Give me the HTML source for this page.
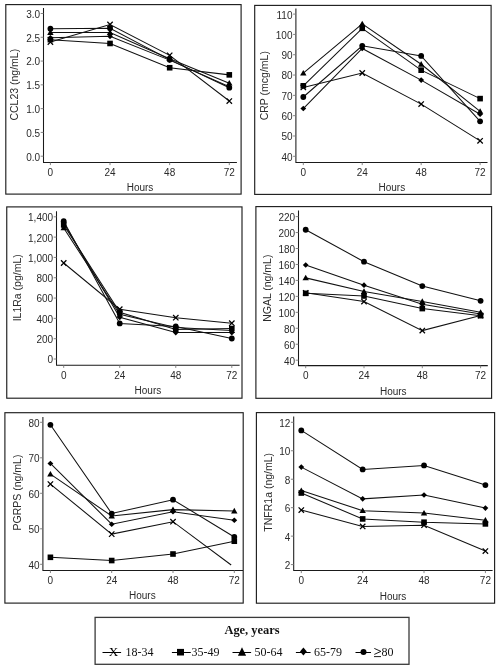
<!DOCTYPE html>
<html><head><meta charset="utf-8"><style>
html,body{margin:0;padding:0;background:#fff;}
svg{display:block;will-change:transform;}
text{font-family:"Liberation Sans",sans-serif;font-size:10px;fill:#2b2b2b;}
text.lt{font-family:"Liberation Serif",serif;font-size:12px;fill:#111;}
</style></head><body>
<svg width="500" height="670" viewBox="0 0 500 670">
<rect width="500" height="670" fill="#fff"/>
<rect x="5.8" y="4.6" width="235.30" height="189.50" fill="none" stroke="#1e1e1e" stroke-width="1.15"/>
<path d="M43.5,8.1V162.5H236.9" fill="none" stroke="#1a1a1a" stroke-width="1.05"/>
<text x="40.10" y="160.60" text-anchor="end">0.0</text>
<text x="40.10" y="136.82" text-anchor="end">0.5</text>
<text x="40.10" y="113.03" text-anchor="end">1.0</text>
<text x="40.10" y="89.25" text-anchor="end">1.5</text>
<text x="40.10" y="65.47" text-anchor="end">2.0</text>
<text x="40.10" y="41.68" text-anchor="end">2.5</text>
<text x="40.10" y="17.90" text-anchor="end">3.0</text>
<text x="50.40" y="175.70" text-anchor="middle">0</text>
<text x="110.03" y="175.70" text-anchor="middle">24</text>
<text x="169.67" y="175.70" text-anchor="middle">48</text>
<text x="229.30" y="175.70" text-anchor="middle">72</text>
<path d="M40.70,156.20H43.5M40.70,132.42H43.5M40.70,108.63H43.5M40.70,84.85H43.5M40.70,61.07H43.5M40.70,37.28H43.5M40.70,13.50H43.5M50.40,162.5V165.10M110.03,162.5V165.10M169.67,162.5V165.10M229.30,162.5V165.10" stroke="#777" stroke-width="0.9" fill="none"/>
<text x="140" y="190.60" text-anchor="middle">Hours</text>
<text transform="translate(18.2,84.7) rotate(-90)" text-anchor="middle" style="font-size:10.5px">CCL23 (ng/mL)</text>
<path d="M50.40,42.04L110.03,24.44L169.67,55.36L229.30,101.02" fill="none" stroke="#111" stroke-width="1.05"/>
<path d="M50.40,39.66L110.03,43.47L169.67,67.73L229.30,74.86" fill="none" stroke="#111" stroke-width="1.05"/>
<path d="M50.40,32.53L110.03,32.53L169.67,58.69L229.30,83.19" fill="none" stroke="#111" stroke-width="1.05"/>
<path d="M50.40,37.76L110.03,36.33L169.67,60.12L229.30,86.75" fill="none" stroke="#111" stroke-width="1.05"/>
<path d="M50.40,28.72L110.03,28.25L169.67,59.64L229.30,87.70" fill="none" stroke="#111" stroke-width="1.05"/>
<path d="M47.70,39.34L53.10,44.74M53.10,39.34L47.70,44.74" fill="none" stroke="#000" stroke-width="1.25"/>
<path d="M107.33,21.74L112.73,27.14M112.73,21.74L107.33,27.14" fill="none" stroke="#000" stroke-width="1.25"/>
<path d="M166.97,52.66L172.37,58.06M172.37,52.66L166.97,58.06" fill="none" stroke="#000" stroke-width="1.25"/>
<path d="M226.60,98.32L232.00,103.72M232.00,98.32L226.60,103.72" fill="none" stroke="#000" stroke-width="1.25"/>
<rect x="47.60" y="36.86" width="5.6" height="5.6"/>
<rect x="107.23" y="40.67" width="5.6" height="5.6"/>
<rect x="166.87" y="64.93" width="5.6" height="5.6"/>
<rect x="226.50" y="72.06" width="5.6" height="5.6"/>
<path d="M50.40,29.33L53.60,34.93L47.20,34.93Z"/>
<path d="M110.03,29.33L113.23,34.93L106.83,34.93Z"/>
<path d="M169.67,55.49L172.87,61.09L166.47,61.09Z"/>
<path d="M229.30,79.99L232.50,85.59L226.10,85.59Z"/>
<path d="M50.40,34.96L53.30,37.76L50.40,40.56L47.50,37.76Z"/>
<path d="M110.03,33.53L112.93,36.33L110.03,39.13L107.13,36.33Z"/>
<path d="M169.67,57.32L172.57,60.12L169.67,62.92L166.77,60.12Z"/>
<path d="M229.30,83.95L232.20,86.75L229.30,89.55L226.40,86.75Z"/>
<circle cx="50.40" cy="28.72" r="2.9"/>
<circle cx="110.03" cy="28.25" r="2.9"/>
<circle cx="169.67" cy="59.64" r="2.9"/>
<circle cx="229.30" cy="87.70" r="2.9"/>
<rect x="254.7" y="5.4" width="236.40" height="189.00" fill="none" stroke="#1e1e1e" stroke-width="1.15"/>
<path d="M295.9,8.4V162.5H487.5" fill="none" stroke="#1a1a1a" stroke-width="1.05"/>
<text x="292.50" y="160.70" text-anchor="end">40</text>
<text x="292.50" y="140.39" text-anchor="end">50</text>
<text x="292.50" y="120.07" text-anchor="end">60</text>
<text x="292.50" y="99.76" text-anchor="end">70</text>
<text x="292.50" y="79.44" text-anchor="end">80</text>
<text x="292.50" y="59.13" text-anchor="end">90</text>
<text x="292.50" y="38.81" text-anchor="end">100</text>
<text x="292.50" y="18.50" text-anchor="end">110</text>
<text x="303.30" y="176.30" text-anchor="middle">0</text>
<text x="362.23" y="176.30" text-anchor="middle">24</text>
<text x="421.17" y="176.30" text-anchor="middle">48</text>
<text x="480.10" y="176.30" text-anchor="middle">72</text>
<path d="M293.10,156.30H295.9M293.10,135.99H295.9M293.10,115.67H295.9M293.10,95.36H295.9M293.10,75.04H295.9M293.10,54.73H295.9M293.10,34.41H295.9M293.10,14.10H295.9M303.30,162.5V165.10M362.23,162.5V165.10M421.17,162.5V165.10M480.10,162.5V165.10" stroke="#777" stroke-width="0.9" fill="none"/>
<text x="391.85" y="191.40" text-anchor="middle">Hours</text>
<text transform="translate(268.09999999999997,85.7) rotate(-90)" text-anchor="middle" style="font-size:10.5px">CRP (mcg/mL)</text>
<path d="M303.30,87.43L362.23,73.01L421.17,104.09L480.10,140.86" fill="none" stroke="#111" stroke-width="1.05"/>
<path d="M303.30,85.81L362.23,28.32L421.17,70.17L480.10,98.61" fill="none" stroke="#111" stroke-width="1.05"/>
<path d="M303.30,73.21L362.23,23.85L421.17,64.28L480.10,111.41" fill="none" stroke="#111" stroke-width="1.05"/>
<path d="M303.30,108.56L362.23,48.43L421.17,80.12L480.10,114.25" fill="none" stroke="#111" stroke-width="1.05"/>
<path d="M303.30,96.98L362.23,45.79L421.17,55.95L480.10,121.36" fill="none" stroke="#111" stroke-width="1.05"/>
<path d="M300.60,84.73L306.00,90.13M306.00,84.73L300.60,90.13" fill="none" stroke="#000" stroke-width="1.25"/>
<path d="M359.53,70.31L364.93,75.71M364.93,70.31L359.53,75.71" fill="none" stroke="#000" stroke-width="1.25"/>
<path d="M418.47,101.39L423.87,106.79M423.87,101.39L418.47,106.79" fill="none" stroke="#000" stroke-width="1.25"/>
<path d="M477.40,138.16L482.80,143.56M482.80,138.16L477.40,143.56" fill="none" stroke="#000" stroke-width="1.25"/>
<rect x="300.50" y="83.01" width="5.6" height="5.6"/>
<rect x="359.43" y="25.52" width="5.6" height="5.6"/>
<rect x="418.37" y="67.37" width="5.6" height="5.6"/>
<rect x="477.30" y="95.81" width="5.6" height="5.6"/>
<path d="M303.30,70.01L306.50,75.61L300.10,75.61Z"/>
<path d="M362.23,20.65L365.43,26.25L359.03,26.25Z"/>
<path d="M421.17,61.08L424.37,66.68L417.97,66.68Z"/>
<path d="M480.10,108.21L483.30,113.81L476.90,113.81Z"/>
<path d="M303.30,105.76L306.20,108.56L303.30,111.36L300.40,108.56Z"/>
<path d="M362.23,45.63L365.13,48.43L362.23,51.23L359.33,48.43Z"/>
<path d="M421.17,77.32L424.07,80.12L421.17,82.92L418.27,80.12Z"/>
<path d="M480.10,111.45L483.00,114.25L480.10,117.05L477.20,114.25Z"/>
<circle cx="303.30" cy="96.98" r="2.9"/>
<circle cx="362.23" cy="45.79" r="2.9"/>
<circle cx="421.17" cy="55.95" r="2.9"/>
<circle cx="480.10" cy="121.36" r="2.9"/>
<rect x="6.75" y="206.9" width="235.25" height="191.30" fill="none" stroke="#1e1e1e" stroke-width="1.15"/>
<path d="M56.5,211.2V365.3H239.6" fill="none" stroke="#1a1a1a" stroke-width="1.05"/>
<text x="53.10" y="363.40" text-anchor="end">0</text>
<text x="53.10" y="343.09" text-anchor="end">200</text>
<text x="53.10" y="322.77" text-anchor="end">400</text>
<text x="53.10" y="302.46" text-anchor="end">600</text>
<text x="53.10" y="282.14" text-anchor="end">800</text>
<text x="53.10" y="261.83" text-anchor="end">1,000</text>
<text x="53.10" y="241.51" text-anchor="end">1,200</text>
<text x="53.10" y="221.20" text-anchor="end">1,400</text>
<text x="63.70" y="378.80" text-anchor="middle">0</text>
<text x="119.73" y="378.80" text-anchor="middle">24</text>
<text x="175.77" y="378.80" text-anchor="middle">48</text>
<text x="231.80" y="378.80" text-anchor="middle">72</text>
<path d="M53.70,359.00H56.5M53.70,338.69H56.5M53.70,318.37H56.5M53.70,298.06H56.5M53.70,277.74H56.5M53.70,257.43H56.5M53.70,237.11H56.5M53.70,216.80H56.5M63.70,365.3V367.90M119.73,365.3V367.90M175.77,365.3V367.90M231.80,365.3V367.90" stroke="#777" stroke-width="0.9" fill="none"/>
<text x="147.9" y="393.90" text-anchor="middle">Hours</text>
<text transform="translate(20.599999999999998,287.75) rotate(-90)" text-anchor="middle" style="font-size:10.5px">IL1Ra (pg/mL)</text>
<path d="M63.70,263.01L119.73,309.23L175.77,317.66L231.80,323.15" fill="none" stroke="#111" stroke-width="1.05"/>
<path d="M63.70,224.93L119.73,312.28L175.77,329.54L231.80,328.53" fill="none" stroke="#111" stroke-width="1.05"/>
<path d="M63.70,227.97L119.73,314.31L175.77,327.51L231.80,330.56" fill="none" stroke="#111" stroke-width="1.05"/>
<path d="M63.70,222.89L119.73,317.36L175.77,332.59L231.80,332.59" fill="none" stroke="#111" stroke-width="1.05"/>
<path d="M63.70,221.27L119.73,323.45L175.77,326.50L231.80,338.48" fill="none" stroke="#111" stroke-width="1.05"/>
<path d="M61.00,260.31L66.40,265.71M66.40,260.31L61.00,265.71" fill="none" stroke="#000" stroke-width="1.25"/>
<path d="M117.03,306.53L122.43,311.93M122.43,306.53L117.03,311.93" fill="none" stroke="#000" stroke-width="1.25"/>
<path d="M173.07,314.96L178.47,320.36M178.47,314.96L173.07,320.36" fill="none" stroke="#000" stroke-width="1.25"/>
<path d="M229.10,320.45L234.50,325.85M234.50,320.45L229.10,325.85" fill="none" stroke="#000" stroke-width="1.25"/>
<rect x="60.90" y="222.13" width="5.6" height="5.6"/>
<rect x="116.93" y="309.48" width="5.6" height="5.6"/>
<rect x="172.97" y="326.74" width="5.6" height="5.6"/>
<rect x="229.00" y="325.73" width="5.6" height="5.6"/>
<path d="M63.70,224.77L66.90,230.37L60.50,230.37Z"/>
<path d="M119.73,311.11L122.93,316.71L116.53,316.71Z"/>
<path d="M175.77,324.31L178.97,329.91L172.57,329.91Z"/>
<path d="M231.80,327.36L235.00,332.96L228.60,332.96Z"/>
<path d="M63.70,220.09L66.60,222.89L63.70,225.69L60.80,222.89Z"/>
<path d="M119.73,314.56L122.63,317.36L119.73,320.16L116.83,317.36Z"/>
<path d="M175.77,329.79L178.67,332.59L175.77,335.39L172.87,332.59Z"/>
<path d="M231.80,329.79L234.70,332.59L231.80,335.39L228.90,332.59Z"/>
<circle cx="63.70" cy="221.27" r="2.9"/>
<circle cx="119.73" cy="323.45" r="2.9"/>
<circle cx="175.77" cy="326.50" r="2.9"/>
<circle cx="231.80" cy="338.48" r="2.9"/>
<rect x="255.9" y="206.6" width="235.70" height="191.70" fill="none" stroke="#1e1e1e" stroke-width="1.15"/>
<path d="M298.5,210.5V365.6H487.8" fill="none" stroke="#1a1a1a" stroke-width="1.05"/>
<text x="295.10" y="364.60" text-anchor="end">40</text>
<text x="295.10" y="348.64" text-anchor="end">60</text>
<text x="295.10" y="332.69" text-anchor="end">80</text>
<text x="295.10" y="316.73" text-anchor="end">100</text>
<text x="295.10" y="300.78" text-anchor="end">120</text>
<text x="295.10" y="284.82" text-anchor="end">140</text>
<text x="295.10" y="268.87" text-anchor="end">160</text>
<text x="295.10" y="252.91" text-anchor="end">180</text>
<text x="295.10" y="236.96" text-anchor="end">200</text>
<text x="295.10" y="221.00" text-anchor="end">220</text>
<text x="305.70" y="379.30" text-anchor="middle">0</text>
<text x="364.00" y="379.30" text-anchor="middle">24</text>
<text x="422.30" y="379.30" text-anchor="middle">48</text>
<text x="480.60" y="379.30" text-anchor="middle">72</text>
<path d="M295.70,360.20H298.5M295.70,344.24H298.5M295.70,328.29H298.5M295.70,312.33H298.5M295.70,296.38H298.5M295.70,280.42H298.5M295.70,264.47H298.5M295.70,248.51H298.5M295.70,232.56H298.5M295.70,216.60H298.5M305.70,365.6V368.20M364.00,365.6V368.20M422.30,365.6V368.20M480.60,365.6V368.20" stroke="#777" stroke-width="0.9" fill="none"/>
<text x="393.25" y="394.65" text-anchor="middle">Hours</text>
<text transform="translate(271.2,288.2) rotate(-90)" text-anchor="middle" style="font-size:10.5px">NGAL (ng/mL)</text>
<path d="M305.70,292.79L364.00,301.56L422.30,330.60L480.60,315.52" fill="none" stroke="#111" stroke-width="1.05"/>
<path d="M305.70,293.35L364.00,295.98L422.30,308.58L480.60,315.68" fill="none" stroke="#111" stroke-width="1.05"/>
<path d="M305.70,277.87L364.00,291.51L422.30,301.48L480.60,312.33" fill="none" stroke="#111" stroke-width="1.05"/>
<path d="M305.70,264.95L364.00,285.13L422.30,304.36L480.60,313.93" fill="none" stroke="#111" stroke-width="1.05"/>
<path d="M305.70,229.76L364.00,261.67L422.30,286.09L480.60,300.85" fill="none" stroke="#111" stroke-width="1.05"/>
<path d="M303.00,290.09L308.40,295.49M308.40,290.09L303.00,295.49" fill="none" stroke="#000" stroke-width="1.25"/>
<path d="M361.30,298.86L366.70,304.26M366.70,298.86L361.30,304.26" fill="none" stroke="#000" stroke-width="1.25"/>
<path d="M419.60,327.90L425.00,333.30M425.00,327.90L419.60,333.30" fill="none" stroke="#000" stroke-width="1.25"/>
<path d="M477.90,312.82L483.30,318.22M483.30,312.82L477.90,318.22" fill="none" stroke="#000" stroke-width="1.25"/>
<rect x="302.90" y="290.55" width="5.6" height="5.6"/>
<rect x="361.20" y="293.18" width="5.6" height="5.6"/>
<rect x="419.50" y="305.78" width="5.6" height="5.6"/>
<rect x="477.80" y="312.88" width="5.6" height="5.6"/>
<path d="M305.70,274.67L308.90,280.27L302.50,280.27Z"/>
<path d="M364.00,288.31L367.20,293.91L360.80,293.91Z"/>
<path d="M422.30,298.28L425.50,303.88L419.10,303.88Z"/>
<path d="M480.60,309.13L483.80,314.73L477.40,314.73Z"/>
<path d="M305.70,262.15L308.60,264.95L305.70,267.75L302.80,264.95Z"/>
<path d="M364.00,282.33L366.90,285.13L364.00,287.93L361.10,285.13Z"/>
<path d="M422.30,301.56L425.20,304.36L422.30,307.16L419.40,304.36Z"/>
<path d="M480.60,311.13L483.50,313.93L480.60,316.73L477.70,313.93Z"/>
<circle cx="305.70" cy="229.76" r="2.9"/>
<circle cx="364.00" cy="261.67" r="2.9"/>
<circle cx="422.30" cy="286.09" r="2.9"/>
<circle cx="480.60" cy="300.85" r="2.9"/>
<rect x="4.9" y="412.7" width="238.30" height="190.40" fill="none" stroke="#1e1e1e" stroke-width="1.15"/>
<path d="M42.9,416.9V570.4H243" fill="none" stroke="#1a1a1a" stroke-width="1.05"/>
<text x="39.50" y="568.70" text-anchor="end">40</text>
<text x="39.50" y="533.20" text-anchor="end">50</text>
<text x="39.50" y="497.70" text-anchor="end">60</text>
<text x="39.50" y="462.20" text-anchor="end">70</text>
<text x="39.50" y="426.70" text-anchor="end">80</text>
<text x="50.40" y="584.00" text-anchor="middle">0</text>
<text x="111.70" y="584.00" text-anchor="middle">24</text>
<text x="173.00" y="584.00" text-anchor="middle">48</text>
<text x="234.30" y="584.00" text-anchor="middle">72</text>
<path d="M40.10,564.30H42.9M40.10,528.80H42.9M40.10,493.30H42.9M40.10,457.80H42.9M40.10,422.30H42.9M50.40,570.4V573.00M111.70,570.4V573.00M173.00,570.4V573.00M234.30,570.4V573.00" stroke="#777" stroke-width="0.9" fill="none"/>
<text x="142.3" y="599.30" text-anchor="middle">Hours</text>
<text transform="translate(20.5,492.5) rotate(-90)" text-anchor="middle" style="font-size:10.5px">PGRPS (ng/mL)</text>
<path d="M50.40,484.07L111.70,534.12L173.00,521.70L231.20,565.00" fill="none" stroke="#111" stroke-width="1.05"/>
<path d="M50.40,557.31L111.70,560.54L173.00,554.00L234.30,541.22" fill="none" stroke="#111" stroke-width="1.05"/>
<path d="M50.40,474.13L111.70,516.02L173.00,509.63L234.30,511.05" fill="none" stroke="#111" stroke-width="1.05"/>
<path d="M50.40,463.48L111.70,524.18L173.00,511.76L234.30,520.28" fill="none" stroke="#111" stroke-width="1.05"/>
<path d="M50.40,424.79L111.70,513.53L173.00,499.69L234.30,536.96" fill="none" stroke="#111" stroke-width="1.05"/>
<path d="M47.70,481.37L53.10,486.77M53.10,481.37L47.70,486.77" fill="none" stroke="#000" stroke-width="1.25"/>
<path d="M109.00,531.42L114.40,536.83M114.40,531.42L109.00,536.83" fill="none" stroke="#000" stroke-width="1.25"/>
<path d="M170.30,519.00L175.70,524.40M175.70,519.00L170.30,524.40" fill="none" stroke="#000" stroke-width="1.25"/>
<rect x="47.60" y="554.51" width="5.6" height="5.6"/>
<rect x="108.90" y="557.74" width="5.6" height="5.6"/>
<rect x="170.20" y="551.21" width="5.6" height="5.6"/>
<rect x="231.50" y="538.42" width="5.6" height="5.6"/>
<path d="M50.40,470.93L53.60,476.53L47.20,476.53Z"/>
<path d="M111.70,512.82L114.90,518.42L108.50,518.42Z"/>
<path d="M173.00,506.43L176.20,512.03L169.80,512.03Z"/>
<path d="M234.30,507.85L237.50,513.45L231.10,513.45Z"/>
<path d="M50.40,460.68L53.30,463.48L50.40,466.28L47.50,463.48Z"/>
<path d="M111.70,521.38L114.60,524.18L111.70,526.98L108.80,524.18Z"/>
<path d="M173.00,508.96L175.90,511.76L173.00,514.56L170.10,511.76Z"/>
<path d="M234.30,517.48L237.20,520.28L234.30,523.08L231.40,520.28Z"/>
<circle cx="50.40" cy="424.79" r="2.9"/>
<circle cx="111.70" cy="513.53" r="2.9"/>
<circle cx="173.00" cy="499.69" r="2.9"/>
<circle cx="234.30" cy="536.96" r="2.9"/>
<rect x="256.4" y="412.6" width="238.20" height="190.60" fill="none" stroke="#1e1e1e" stroke-width="1.15"/>
<path d="M293.7,416.6V570.5H492.6" fill="none" stroke="#1a1a1a" stroke-width="1.05"/>
<text x="290.30" y="569.00" text-anchor="end">2</text>
<text x="290.30" y="540.54" text-anchor="end">4</text>
<text x="290.30" y="512.08" text-anchor="end">6</text>
<text x="290.30" y="483.62" text-anchor="end">8</text>
<text x="290.30" y="455.16" text-anchor="end">10</text>
<text x="290.30" y="426.70" text-anchor="end">12</text>
<text x="301.30" y="584.00" text-anchor="middle">0</text>
<text x="362.67" y="584.00" text-anchor="middle">24</text>
<text x="424.03" y="584.00" text-anchor="middle">48</text>
<text x="485.40" y="584.00" text-anchor="middle">72</text>
<path d="M290.90,564.60H293.7M290.90,536.14H293.7M290.90,507.68H293.7M290.90,479.22H293.7M290.90,450.76H293.7M290.90,422.30H293.7M301.30,570.5V573.10M362.67,570.5V573.10M424.03,570.5V573.10M485.40,570.5V573.10" stroke="#777" stroke-width="0.9" fill="none"/>
<text x="393" y="599.65" text-anchor="middle">Hours</text>
<text transform="translate(271.9,492.3) rotate(-90)" text-anchor="middle" style="font-size:10.5px">TNFR1a (ng/mL)</text>
<path d="M301.30,510.10L362.67,526.46L424.03,525.18L485.40,551.08" fill="none" stroke="#111" stroke-width="1.05"/>
<path d="M301.30,493.02L362.67,518.92L424.03,522.19L485.40,523.90" fill="none" stroke="#111" stroke-width="1.05"/>
<path d="M301.30,490.60L362.67,510.67L424.03,513.09L485.40,520.20" fill="none" stroke="#111" stroke-width="1.05"/>
<path d="M301.30,467.12L362.67,498.86L424.03,495.02L485.40,508.11" fill="none" stroke="#111" stroke-width="1.05"/>
<path d="M301.30,430.41L362.67,469.40L424.03,465.42L485.40,485.05" fill="none" stroke="#111" stroke-width="1.05"/>
<path d="M298.60,507.40L304.00,512.80M304.00,507.40L298.60,512.80" fill="none" stroke="#000" stroke-width="1.25"/>
<path d="M359.97,523.76L365.37,529.16M365.37,523.76L359.97,529.16" fill="none" stroke="#000" stroke-width="1.25"/>
<path d="M421.33,522.48L426.73,527.88M426.73,522.48L421.33,527.88" fill="none" stroke="#000" stroke-width="1.25"/>
<path d="M482.70,548.38L488.10,553.78M488.10,548.38L482.70,553.78" fill="none" stroke="#000" stroke-width="1.25"/>
<rect x="298.50" y="490.22" width="5.6" height="5.6"/>
<rect x="359.87" y="516.12" width="5.6" height="5.6"/>
<rect x="421.23" y="519.39" width="5.6" height="5.6"/>
<rect x="482.60" y="521.10" width="5.6" height="5.6"/>
<path d="M301.30,487.40L304.50,493.00L298.10,493.00Z"/>
<path d="M362.67,507.47L365.87,513.07L359.47,513.07Z"/>
<path d="M424.03,509.89L427.23,515.49L420.83,515.49Z"/>
<path d="M485.40,517.00L488.60,522.60L482.20,522.60Z"/>
<path d="M301.30,464.32L304.20,467.12L301.30,469.92L298.40,467.12Z"/>
<path d="M362.67,496.06L365.57,498.86L362.67,501.66L359.77,498.86Z"/>
<path d="M424.03,492.22L426.93,495.02L424.03,497.82L421.13,495.02Z"/>
<path d="M485.40,505.31L488.30,508.11L485.40,510.91L482.50,508.11Z"/>
<circle cx="301.30" cy="430.41" r="2.9"/>
<circle cx="362.67" cy="469.40" r="2.9"/>
<circle cx="424.03" cy="465.42" r="2.9"/>
<circle cx="485.40" cy="485.05" r="2.9"/>
<rect x="95.1" y="617.4" width="313.9" height="46.9" fill="none" stroke="#3a3a3a" stroke-width="1.3"/>
<text x="252" y="634" text-anchor="middle" class="lt" style="font-weight:bold;font-size:12.4px">Age, years</text>
<path d="M102.5,652.5H121.1" stroke="#000" stroke-width="1"/>
<text x="113.5" y="656" class="lt" text-anchor="middle" style="font-size:13.2px;fill:#000">X</text>
<text x="125.6" y="656" class="lt">18-34</text>
<path d="M171.9,652.5H190.8" stroke="#000" stroke-width="1"/>
<rect x="177.0" y="648.9" width="7" height="6.6"/>
<text x="191.4" y="656" class="lt">35-49</text>
<path d="M232.5,652.5H251.1" stroke="#000" stroke-width="1"/>
<path d="M242,647.3L246.1,655.7L237.9,655.7Z"/>
<text x="254.4" y="656" class="lt">50-64</text>
<path d="M295.9,652.5H310.6" stroke="#000" stroke-width="1"/>
<path d="M303.4,647.4L306.79999999999995,651.6L303.4,655.6L300.0,651.6Z"/>
<text x="313.9" y="656" class="lt">65-79</text>
<path d="M355.5,652.5H371" stroke="#000" stroke-width="1"/>
<circle cx="363.5" cy="652" r="3"/>
<path d="M374.3,648.4L380.9,651.4L374.3,654.4M374,656.6H381" fill="none" stroke="#111" stroke-width="0.95"/>
<text x="381.6" y="656" class="lt">80</text>
</svg></body></html>
